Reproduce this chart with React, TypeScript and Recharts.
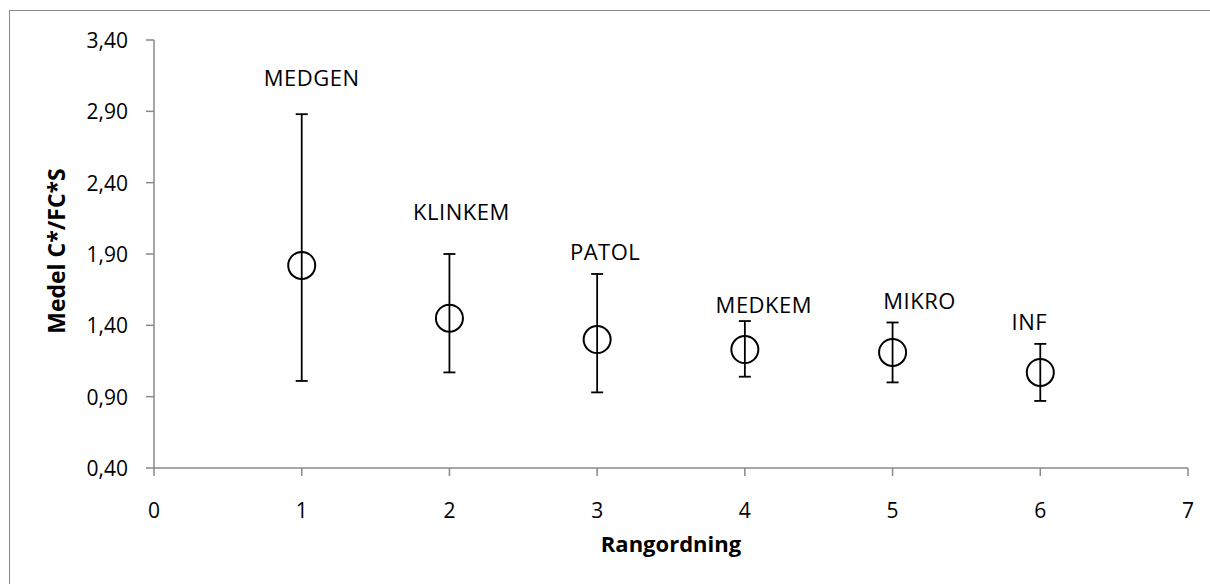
import {
  ErrorBar,
  Label,
  Scatter,
  ScatterChart,
  XAxis,
  YAxis,
} from "recharts";

const departments = ["MEDGEN", "KLINKEM", "PATOL", "MEDKEM", "MIKRO", "INF"];
const ranks = [1, 2, 3, 4, 5, 6];
const means = [1.82, 1.45, 1.3, 1.23, 1.21, 1.07];
const upper = [2.88, 1.9, 1.76, 1.43, 1.42, 1.27];
const lower = [1.01, 1.07, 0.93, 1.04, 1.0, 0.87];

const xTicks = [0, 1, 2, 3, 4, 5, 6, 7];
const yTicks = [0.4, 0.9, 1.4, 1.9, 2.4, 2.9, 3.4];

// where each name sits relative to its marker (dx to centre, dy to baseline)
const labelOffsets = [
  [10, -179],
  [12, -98],
  [8, -80],
  [19, -37],
  [27, -43],
  [-11, -42],
];

const FONT = "'Open Sans', sans-serif";
const AXIS = "#898989";

const data = ranks.map((rank, i) => ({
  idx: i,
  rank,
  mean: means[i],
  err: [means[i] - lower[i], upper[i] - means[i]],
  name: departments[i],
}));

function formatComma(v: number) {
  return v.toFixed(2).replace(".", ",");
}

function Marker(props: any) {
  const { cx, cy, payload } = props;
  const [dx, dy] = labelOffsets[payload.idx];
  return (
    <g>
      <circle cx={cx} cy={cy} r={13.5} fill="none" stroke="#000" strokeWidth={2} />
      <text
        x={cx + dx}
        y={cy + dy}
        textAnchor="middle"
        fontFamily={FONT}
        fontSize={22}
        letterSpacing={0.5}
        fill="#000"
      >
        {payload.name}
      </text>
    </g>
  );
}

function YTitle(props: any) {
  const { viewBox } = props;
  const cx = 56;
  const cy = viewBox.y + viewBox.height / 2 - 3;
  return (
    <text
      x={cx}
      y={cy}
      transform={`rotate(-90, ${cx}, ${cy})`}
      textAnchor="middle"
      dominantBaseline="central"
      fontFamily={FONT}
      fontWeight="bold"
      fontSize={23}
      fill="#000"
    >
      Medel C*/FC*S
    </text>
  );
}

function XTitle(props: any) {
  const { viewBox } = props;
  return (
    <text
      x={viewBox.x + viewBox.width / 2}
      y={552}
      textAnchor="middle"
      fontFamily={FONT}
      fontWeight="bold"
      fontSize={22}
      fill="#000"
    >
      Rangordning
    </text>
  );
}

function XTick(props: any) {
  const { x, y, payload } = props;
  return (
    <text x={x} y={y + 511 - 469} textAnchor="middle" fontFamily={FONT} fontSize={21} fill="#000">
      {payload.value}
    </text>
  );
}

function YTick(props: any) {
  const { x, y, payload } = props;
  return (
    <text
      x={x}
      y={y}
      textAnchor="end"
      dominantBaseline="central"
      fontFamily={FONT}
      fontSize={21}
      fill="#000"
    >
      {formatComma(payload.value)}
    </text>
  );
}

export default function App() {
  return (
    <div
      style={{
        position: "fixed",
        left: 0,
        top: 0,
        width: 1210,
        height: 584,
        overflow: "hidden",
        background: "#fff",
      }}
    >
      <div
        style={{
          position: "absolute",
          left: 9,
          top: 10,
          width: 1230,
          height: 620,
          border: `1.5px solid ${AXIS}`,
        }}
      />
      <div style={{ position: "absolute", left: 0, top: 0 }}>
        <ScatterChart
          width={1210}
          height={584}
          margin={{ top: 40, right: 22, bottom: 0, left: 0 }}
        >
          <XAxis
            type="number"
            dataKey="rank"
            domain={[0, 7]}
            ticks={xTicks}
            interval={0}
            height={116}
            stroke={AXIS}
            strokeWidth={1.5}
            tickSize={8}
            tickMargin={0}
            tick={<XTick />}
          >
            <Label content={<XTitle />} />
          </XAxis>
          <YAxis
            type="number"
            dataKey="mean"
            domain={[0.4, 3.4]}
            ticks={yTicks}
            interval={0}
            width={154}
            stroke={AXIS}
            strokeWidth={1.5}
            tickSize={8}
            tickMargin={18}
            tick={<YTick />}
          >
            <Label content={<YTitle />} />
          </YAxis>
          <Scatter data={data} shape={<Marker />} isAnimationActive={false}>
            <ErrorBar
              dataKey="err"
              direction="y"
              width={6}
              stroke="#000"
              strokeWidth={1.8}
            />
          </Scatter>
        </ScatterChart>
      </div>
    </div>
  );
}
